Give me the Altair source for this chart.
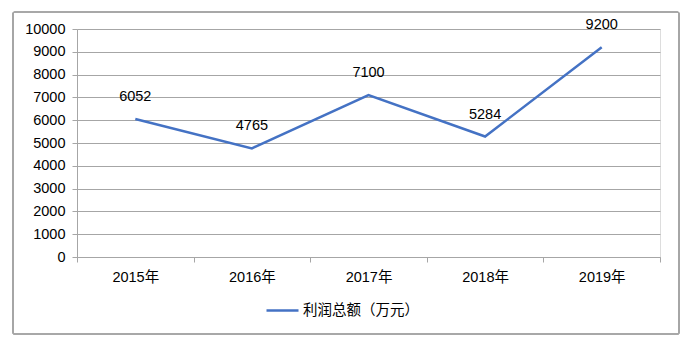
import altair as alt
import pandas as pd

years = ["2015年", "2016年", "2017年", "2018年", "2019年"]
profits = [6052, 4765, 7100, 5284, 9200]
series_name = "利润总额（万元）"
y_ticks = [0, 1000, 2000, 3000, 4000, 5000, 6000, 7000, 8000, 9000, 10000]

df = pd.DataFrame({"year": years, "value": profits, "series": [series_name] * len(years)})

FONT = "Liberation Sans, Noto Sans CJK SC, sans-serif"
LINE_COLOR = "#4472C4"
GRID = "#A6A6A6"

x_enc = alt.X(
    "year:N",
    sort=years,
    bandPosition=0.5,
    scale=alt.Scale(type="band", paddingInner=0, paddingOuter=0),
    axis=alt.Axis(
        title=None, labelAngle=0, tickBand="extent", grid=False,
        domainColor=GRID, tickColor=GRID, tickSize=5, labelPadding=8,
        labelFontSize=14.5, labelFont=FONT, labelColor="#000000",
    ),
)
y_enc = alt.Y(
    "value:Q",
    scale=alt.Scale(domain=[0, 10000], nice=False),
    axis=alt.Axis(
        title=None, values=y_ticks, tickCount=11, grid=True, gridColor=GRID,
        domainColor=GRID, tickColor=GRID, tickSize=5, labelPadding=7,
        labelFontSize=14.5, labelFont=FONT, labelColor="#000000",
        format="d", labelOverlap=False, labelFlush=False,
    ),
)

border = alt.Chart(df).mark_rect(
    fill=None, stroke=GRID, strokeWidth=1.2, cornerRadius=2
).encode(
    x=alt.value(-64), x2=alt.value(602), y=alt.value(-17), y2=alt.value(305)
)

line = alt.Chart(df).mark_line(strokeWidth=2.5).encode(
    x=x_enc,
    y=y_enc,
    color=alt.Color(
        "series:N",
        scale=alt.Scale(domain=[series_name], range=[LINE_COLOR]),
        legend=alt.Legend(
            title=None, orient="none", legendX=188, legendY=264,
            symbolType="stroke", symbolSize=1024, symbolStrokeWidth=2.5,
            labelFontSize=14.5, labelFont=FONT, labelColor="#000000",
            labelOffset=3,
        ),
    ),
)

labels = alt.Chart(df).mark_text(
    dy=-22, fontSize=14.5, font=FONT, color="#000000"
).encode(
    x=x_enc,
    y=y_enc,
    text=alt.Text("value:Q", format="d"),
)

chart = alt.layer(border, line, labels).properties(
    width=583, height=228,
    padding={"left": 77, "top": 29, "right": 40, "bottom": 86},
    autosize=alt.AutoSizeParams(type="none"),
).configure_view(stroke=None).configure(background="#FFFFFF")

chart.save("out.html", embed_options={"renderer": "svg", "actions": False})
